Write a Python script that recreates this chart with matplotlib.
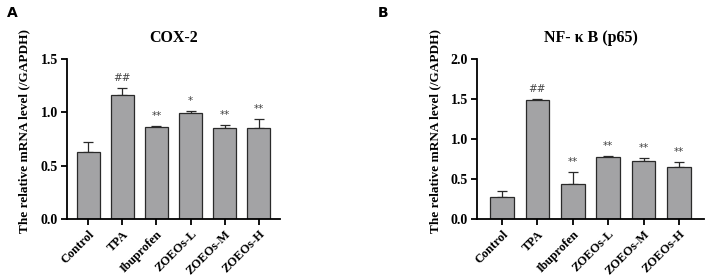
import matplotlib
matplotlib.use('Agg')
import matplotlib.pyplot as plt
import numpy as np

groups = ['Control', 'TPA', 'Ibuprofen', 'ZOEOs-L', 'ZOEOs-M', 'ZOEOs-H']

cox2_mean = [0.63, 1.16, 0.86, 0.99, 0.85, 0.85]
cox2_err = [0.09, 0.07, 0.015, 0.02, 0.035, 0.09]
cox2_sig = ['', '##', '**', '*', '**', '**']

nfkb_mean = [0.27, 1.49, 0.44, 0.78, 0.725, 0.645]
nfkb_err = [0.08, 0.01, 0.15, 0.01, 0.035, 0.065]
nfkb_sig = ['', '##', '**', '**', '**', '**']

plt.rcParams['font.family'] = ['Liberation Serif', 'DejaVu Serif']

fig = plt.figure(figsize=(7.08, 2.78), dpi=100)
fig.set_facecolor('white')


def panel(rect, means, errs, sigs, title, ymax, yticks, xlim, letter, letter_x, lab_x):
    ax = fig.add_axes(rect)
    x = np.arange(len(groups))
    lower = np.zeros(len(means))
    ax.bar(x, means, width=0.67, color='#a3a3a5', edgecolor='#2a2a2a', linewidth=0.9,
           zorder=2)
    ax.errorbar(x, means, yerr=[lower, errs], fmt='none', ecolor='#2a2a2a',
                elinewidth=0.9, capsize=3.5, capthick=0.9, zorder=1)
    for xi, m, e, s in zip(x, means, errs, sigs):
        if s:
            ax.text(xi, m + e + ymax * 0.03, s, ha='center', va='bottom',
                    fontsize=7.5, color='#444444', family='DejaVu Sans')
    ax.set_xlim(*xlim)
    ax.set_ylim(0, ymax)
    ax.set_yticks(yticks)
    ax.set_yticklabels(['%.1f' % t for t in yticks], fontsize=10, fontweight='bold')
    ax.set_xticks(x)
    ax.set_xticklabels(groups, rotation=45, ha='right', rotation_mode='anchor',
                       fontsize=9, fontweight='bold')
    ax.spines['top'].set_visible(False)
    ax.spines['right'].set_visible(False)
    ax.spines['left'].set_linewidth(1.3)
    ax.spines['bottom'].set_linewidth(1.3)
    ax.tick_params(width=1.3, length=4.5, pad=2)
    ax.set_ylabel('The relative mRNA level (/GAPDH)', fontsize=9.5, fontweight='bold')
    ax.yaxis.set_label_coords(lab_x, 0.55)
    ax.set_title(title, fontsize=11.5, fontweight='bold', pad=12)
    fig.text(letter_x, 0.955, letter, fontsize=10, fontweight='bold',
             family='DejaVu Sans', va='center')
    return ax


panel([0.0946, 0.212, 0.301, 0.576], cox2_mean, cox2_err, cox2_sig, 'COX-2',
      1.5, [0.0, 0.5, 1.0, 1.5], (-0.62, 5.62), 'A', 0.01, -0.17)
panel([0.674, 0.212, 0.32, 0.576], nfkb_mean, nfkb_err, nfkb_sig, 'NF- κ B (p65)',
      2.0, [0.0, 0.5, 1.0, 1.5, 2.0], (-0.7, 5.7), 'B', 0.533, -0.16)

fig.savefig('out.png', dpi=100, facecolor='white')
